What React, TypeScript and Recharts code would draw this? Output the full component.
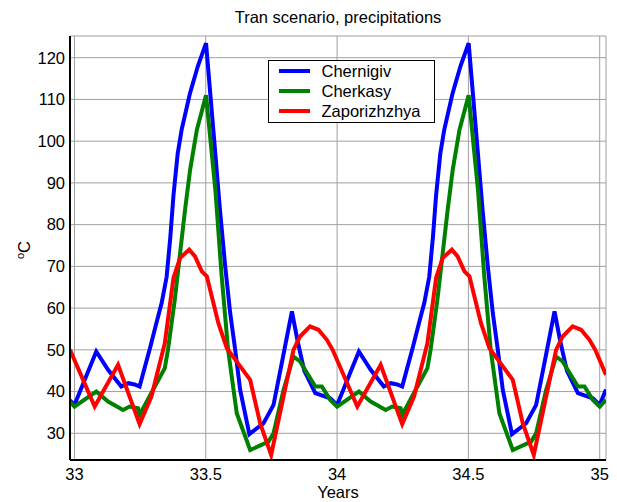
import React from 'react';
import { LineChart, Line, XAxis, YAxis, CartesianGrid, Legend, Label } from 'recharts';

const FONT = '"Liberation Sans", Arial, Helvetica, sans-serif';

const xTicks = [33, 33.5, 34, 34.5, 35];
const yTicks = [30, 40, 50, 60, 70, 80, 90, 100, 110, 120];
const xDomain = [32.983, 35.024];
const yDomain = [23.6, 125.2];

const seriesNames = ['Chernigiv', 'Cherkasy', 'Zaporizhzhya'];
const seriesColors = ['#0000ff', '#008000', '#ff0000'];

const chernigivX = [
  32.983,
  33.0, 33.083, 33.128, 33.178, 33.205, 33.229, 33.248, 33.288, 33.312, 33.332, 33.351, 33.365, 33.377, 33.393, 33.408, 33.44, 33.47, 33.501,
  33.535, 33.554, 33.574, 33.593, 33.612, 33.631, 33.666, 33.72, 33.758, 33.79, 33.828, 33.85, 33.875, 33.917, 33.974,
  34.0, 34.083, 34.128, 34.178, 34.205, 34.229, 34.248, 34.288, 34.312, 34.332, 34.351, 34.365, 34.377, 34.393, 34.408, 34.44, 34.47, 34.501,
  34.535, 34.554, 34.574, 34.593, 34.612, 34.631, 34.666, 34.72, 34.758, 34.79, 34.828, 34.85, 34.875, 34.917, 34.974,
  35.0, 35.024,
];
const chernigivY = [
  37.9,
  36.8, 49.6, 45.2, 41.2, 42, 41.7, 41.2, 50.5, 56.4, 61.2, 67.5, 77, 87, 97, 102.7, 111.5, 118, 123.5,
  98, 83.5, 70, 58.8, 50, 40.4, 29.8, 32.4, 36.8, 47, 59.2, 52, 45, 39.6, 38.4,
  36.8, 49.6, 45.2, 41.2, 42, 41.7, 41.2, 50.5, 56.4, 61.2, 67.5, 77, 87, 97, 102.7, 111.5, 118, 123.5,
  98, 83.5, 70, 58.8, 50, 40.4, 29.8, 32.4, 36.8, 47, 59.2, 52, 45, 39.6, 38.4,
  36.8, 40.5,
];

const cherkasyX = [
  32.983,
  33.0, 33.083, 33.128, 33.185, 33.21, 33.242, 33.248, 33.306, 33.344, 33.356, 33.382, 33.421, 33.44, 33.466, 33.501,
  33.537, 33.56, 33.585, 33.618, 33.669, 33.739, 33.758, 33.796, 33.834, 33.859, 33.917, 33.942, 33.974,
  34.0, 34.083, 34.128, 34.185, 34.21, 34.242, 34.248, 34.306, 34.344, 34.356, 34.382, 34.421, 34.44, 34.466, 34.501,
  34.537, 34.56, 34.585, 34.618, 34.669, 34.739, 34.758, 34.796, 34.834, 34.859, 34.917, 34.942, 34.974,
  35.0, 35.024,
];
const cherkasyY = [
  37.5,
  36.4, 40, 37.6, 35.6, 36.4, 36, 34.4, 41.2, 45.6, 50, 62, 83.5, 93, 102.7, 111,
  88, 68, 50, 34.8, 26, 28, 30, 40.4, 48.4, 47.2, 41.2, 41.2, 38,
  36.4, 40, 37.6, 35.6, 36.4, 36, 34.4, 41.2, 45.6, 50, 62, 83.5, 93, 102.7, 111,
  88, 68, 50, 34.8, 26, 28, 30, 40.4, 48.4, 47.2, 41.2, 41.2, 38,
  36.4, 38,
];

const zaporizhzhyaX = [
  32.983, 33.077, 33.166, 33.248, 33.293, 33.344, 33.377, 33.402, 33.437, 33.459, 33.485, 33.504,
  33.548, 33.58, 33.669, 33.707, 33.749, 33.796, 33.834, 33.859, 33.897, 33.929, 33.961,
  33.983, 34.077, 34.166, 34.248, 34.293, 34.344, 34.377, 34.402, 34.437, 34.459, 34.485, 34.504,
  34.548, 34.58, 34.669, 34.707, 34.749, 34.796, 34.834, 34.859, 34.897, 34.929, 34.961,
  34.983, 35.024,
];
const zaporizhzhyaY = [
  50, 36.4, 46.4, 32.2, 38.8, 51.6, 67.2, 72, 74, 72.4, 68.8, 67.6,
  56.4, 50.4, 42.8, 32.4, 24.8, 38.8, 50, 53.2, 55.6, 54.8, 52.4,
  50, 36.4, 46.4, 32.2, 38.8, 51.6, 67.2, 72, 74, 72.4, 68.8, 67.6,
  56.4, 50.4, 42.8, 32.4, 24.8, 38.8, 50, 53.2, 55.6, 54.8, 52.4,
  50, 44,
];

const titleText = 'Tran scenario, precipitations';
const xLabelText = 'Years';

function build(xs: number[], ys: number[]) {
  return xs.map((x, i) => ({ x, y: ys[i] }));
}

const seriesData = [
  build(chernigivX, chernigivY),
  build(cherkasyX, cherkasyY),
  build(zaporizhzhyaX, zaporizhzhyaY),
];

const XLabel = (props: any) => {
  const vb = props.viewBox || { x: 70, y: 460, width: 536 };
  return (
    <text x={vb.x + vb.width / 2} y={vb.y + 38} textAnchor="middle" fontSize={16.5} fill="#000" fontFamily={FONT}>
      {xLabelText}
    </text>
  );
};

const YLabel = (props: any) => {
  const vb = props.viewBox || { x: 10, y: 36, width: 60, height: 424 };
  const cx = vb.x + 20;
  const cy = vb.y + vb.height / 2 + 2;
  return (
    <text x={cx} y={cy} textAnchor="middle" fill="#000" fontFamily={FONT} transform={`rotate(-90, ${cx}, ${cy})`}>
      <tspan fontSize={11} dy={-6}>o</tspan>
      <tspan fontSize={16.5} dy={6}>C</tspan>
    </text>
  );
};

const LegendBox = (props: any) => {
  const payload = [...(props.payload || [])].sort(
    (a: any, b: any) => seriesNames.indexOf(a.value) - seriesNames.indexOf(b.value)
  );
  return (
    <div
      style={{
        width: 167,
        height: 63,
        boxSizing: 'border-box',
        border: '1.5px solid #000',
        background: '#fff',
        fontFamily: FONT,
      }}
    >
      {payload.map((p: any) => (
        <div key={p.value} style={{ display: 'flex', alignItems: 'center', height: 20 }}>
          <div style={{ width: 31, height: 4, background: p.color, marginLeft: 9.5 }} />
          <span style={{ marginLeft: 12, fontSize: 16.5, color: '#000', lineHeight: '20px' }}>{p.value}</span>
        </div>
      ))}
    </div>
  );
};

export default function App() {
  return (
    <div style={{ position: 'absolute', left: 0, top: 0, width: 617, height: 502, background: '#fff', fontFamily: FONT }}>
      <div
        style={{
          position: 'absolute',
          left: 70,
          top: 7,
          width: 536,
          textAlign: 'center',
          fontSize: 16.5,
          lineHeight: '20px',
          color: '#000',
          zIndex: 2,
        }}
      >
        {titleText}
      </div>
      <LineChart width={617} height={502} margin={{ top: 36, right: 11, bottom: 0, left: 10 }}>
        <CartesianGrid stroke="#a0a0a0" strokeWidth={1} />
        <XAxis
          dataKey="x"
          type="number"
          domain={xDomain}
          ticks={xTicks}
          interval={0}
          allowDataOverflow
          tickLine={false}
          tickSize={0}
          tickMargin={8}
          height={42}
          axisLine={{ stroke: '#000', strokeWidth: 2 }}
          tick={{ fill: '#000', fontSize: 16.5, fontFamily: FONT }}
        >
          <Label content={<XLabel />} />
        </XAxis>
        <XAxis
          xAxisId="top"
          orientation="top"
          dataKey="x"
          type="number"
          domain={xDomain}
          ticks={xTicks}
          allowDataOverflow
          tick={false}
          tickLine={false}
          height={0}
          axisLine={{ stroke: '#000', strokeWidth: 1 }}
        />
        <YAxis
          type="number"
          domain={yDomain}
          ticks={yTicks}
          interval={0}
          allowDataOverflow
          tickLine={false}
          tickSize={0}
          tickMargin={5}
          width={60}
          axisLine={{ stroke: '#000', strokeWidth: 2 }}
          tick={{ fill: '#000', fontSize: 16.5, fontFamily: FONT }}
        >
          <Label content={<YLabel />} />
        </YAxis>
        <YAxis
          yAxisId="right"
          orientation="right"
          type="number"
          domain={yDomain}
          ticks={yTicks}
          allowDataOverflow
          tick={false}
          tickLine={false}
          width={0}
          axisLine={{ stroke: '#000', strokeWidth: 1 }}
        />
        {seriesData.map((d, i) => (
          <Line
            key={seriesNames[i]}
            data={d}
            dataKey="y"
            name={seriesNames[i]}
            type="linear"
            stroke={seriesColors[i]}
            strokeWidth={4}
            dot={false}
            activeDot={false}
            isAnimationActive={false}
          />
        ))}
        <Legend
          layout="vertical"
          align="center"
          verticalAlign="middle"
          wrapperStyle={{ left: 268, top: 60, width: 167, height: 63 }}
          content={<LegendBox />}
        />
      </LineChart>
    </div>
  );
}
